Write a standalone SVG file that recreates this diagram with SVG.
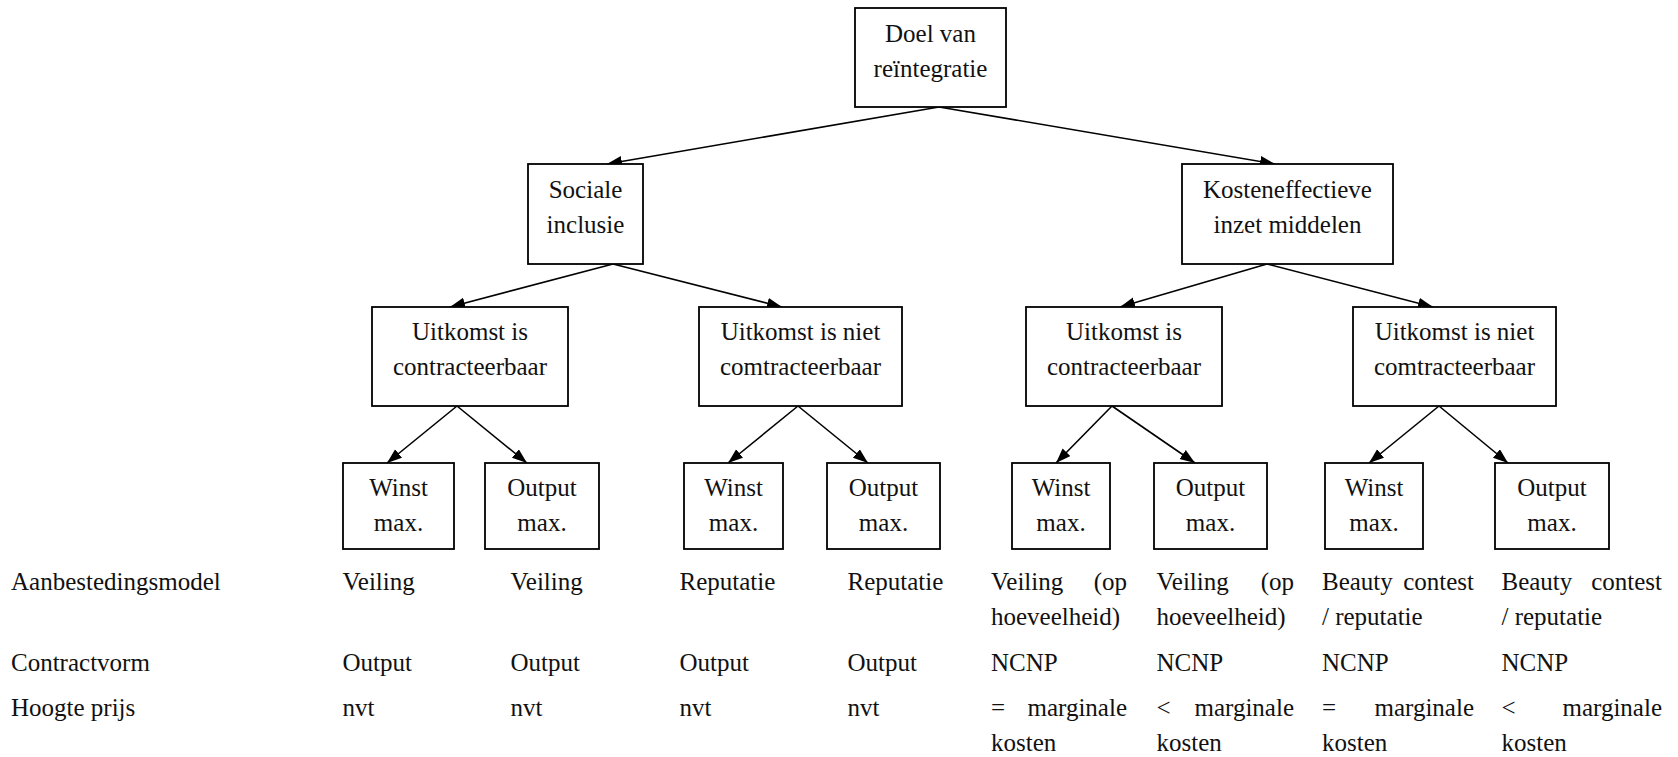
<svg xmlns="http://www.w3.org/2000/svg" width="1678" height="757" viewBox="0 0 1678 757">
<style>
  .box { fill: #ffffff; stroke: #000000; stroke-width: 1.8; }
  .t { font-family: "Liberation Serif", "Times New Roman", serif; font-size: 25px; fill: #111111; }
  .c { text-anchor: middle; }
  .e { text-anchor: end; }
  .conn { stroke: #000000; stroke-width: 1.6; fill: none; marker-end: url(#arrow); }
</style>
<defs>
  <marker id="arrow" markerUnits="userSpaceOnUse" markerWidth="16" markerHeight="12" refX="15" refY="5.5" orient="auto">
    <path d="M0,0 L15,5.5 L0,11 Z" fill="#000000"/>
  </marker>
</defs>
<rect x="0" y="0" width="1678" height="757" fill="#ffffff"/>

<g id="connectors">
  <line class="conn" x1="939" y1="107" x2="607" y2="164"/>
  <line class="conn" x1="939" y1="107" x2="1275" y2="164"/>
  <line class="conn" x1="613" y1="264" x2="450" y2="307"/>
  <line class="conn" x1="613" y1="264" x2="782" y2="307"/>
  <line class="conn" x1="1267" y1="264" x2="1120" y2="307"/>
  <line class="conn" x1="1267" y1="264" x2="1433" y2="307"/>
  <line class="conn" x1="457" y1="406" x2="387" y2="463"/>
  <line class="conn" x1="457" y1="406" x2="527" y2="463"/>
  <line class="conn" x1="798" y1="406" x2="728" y2="463"/>
  <line class="conn" x1="798" y1="406" x2="868" y2="463"/>
  <line class="conn" x1="1112" y1="406" x2="1056" y2="463"/>
  <line class="conn" x1="1112" y1="406" x2="1195" y2="463"/>
  <line class="conn" x1="1439" y1="406" x2="1369" y2="463"/>
  <line class="conn" x1="1439" y1="406" x2="1508" y2="463"/>
</g>

<g id="root">
  <rect class="box" x="855" y="8" width="151" height="99"/>
  <text class="t c" x="930.5" y="42">Doel van</text>
  <text class="t c" x="930.5" y="77">reïntegratie</text>
</g>

<g id="sociale">
  <rect class="box" x="528" y="164" width="115" height="100"/>
  <text class="t c" x="585.5" y="198">Sociale</text>
  <text class="t c" x="585.5" y="233">inclusie</text>
</g>

<g id="kosten">
  <rect class="box" x="1182" y="164" width="211" height="100"/>
  <text class="t c" x="1287.5" y="198">Kosteneffectieve</text>
  <text class="t c" x="1287.5" y="233">inzet middelen</text>
</g>

<g id="u1">
  <rect class="box" x="372" y="307" width="196" height="99"/>
  <text class="t c" x="470" y="340">Uitkomst is</text>
  <text class="t c" x="470" y="375">contracteerbaar</text>
</g>
<g id="u2">
  <rect class="box" x="699" y="307" width="203" height="99"/>
  <text class="t c" x="800.5" y="340">Uitkomst is niet</text>
  <text class="t c" x="800.5" y="375">comtracteerbaar</text>
</g>
<g id="u3">
  <rect class="box" x="1026" y="307" width="196" height="99"/>
  <text class="t c" x="1124" y="340">Uitkomst is</text>
  <text class="t c" x="1124" y="375">contracteerbaar</text>
</g>
<g id="u4">
  <rect class="box" x="1353" y="307" width="203" height="99"/>
  <text class="t c" x="1454.5" y="340">Uitkomst is niet</text>
  <text class="t c" x="1454.5" y="375">comtracteerbaar</text>
</g>

<g id="w1">
  <rect class="box" x="343" y="463" width="111" height="86"/>
  <text class="t c" x="398.5" y="496">Winst</text>
  <text class="t c" x="398.5" y="531">max.</text>
</g>
<g id="o1">
  <rect class="box" x="485" y="463" width="114" height="86"/>
  <text class="t c" x="542" y="496">Output</text>
  <text class="t c" x="542" y="531">max.</text>
</g>
<g id="w2">
  <rect class="box" x="684" y="463" width="99" height="86"/>
  <text class="t c" x="733.5" y="496">Winst</text>
  <text class="t c" x="733.5" y="531">max.</text>
</g>
<g id="o2">
  <rect class="box" x="827" y="463" width="113" height="86"/>
  <text class="t c" x="883.5" y="496">Output</text>
  <text class="t c" x="883.5" y="531">max.</text>
</g>
<g id="w3">
  <rect class="box" x="1012" y="463" width="98" height="86"/>
  <text class="t c" x="1061" y="496">Winst</text>
  <text class="t c" x="1061" y="531">max.</text>
</g>
<g id="o3">
  <rect class="box" x="1154" y="463" width="113" height="86"/>
  <text class="t c" x="1210.5" y="496">Output</text>
  <text class="t c" x="1210.5" y="531">max.</text>
</g>
<g id="w4">
  <rect class="box" x="1325" y="463" width="98" height="86"/>
  <text class="t c" x="1374" y="496">Winst</text>
  <text class="t c" x="1374" y="531">max.</text>
</g>
<g id="o4">
  <rect class="box" x="1495" y="463" width="114" height="86"/>
  <text class="t c" x="1552" y="496">Output</text>
  <text class="t c" x="1552" y="531">max.</text>
</g>

<g id="table">
  <text class="t" x="11" y="590">Aanbestedingsmodel</text>
  <text class="t" x="11" y="671">Contractvorm</text>
  <text class="t" x="11" y="716">Hoogte prijs</text>

  <text class="t" x="342.5" y="590">Veiling</text>
  <text class="t" x="510.5" y="590">Veiling</text>
  <text class="t" x="679.5" y="590">Reputatie</text>
  <text class="t" x="847.5" y="590">Reputatie</text>
  <text class="t" x="991" y="590">Veiling</text>
  <text class="t e" x="1127" y="590">(op</text>
  <text class="t" x="991" y="625">hoeveelheid)</text>
  <text class="t" x="1156.5" y="590">Veiling</text>
  <text class="t e" x="1294" y="590">(op</text>
  <text class="t" x="1156.5" y="625">hoeveelheid)</text>
  <text class="t" x="1322" y="590">Beauty</text>
  <text class="t e" x="1474" y="590">contest</text>
  <text class="t" x="1322" y="625">/ reputatie</text>
  <text class="t" x="1501.5" y="590">Beauty</text>
  <text class="t e" x="1662" y="590">contest</text>
  <text class="t" x="1501.5" y="625">/ reputatie</text>

  <text class="t" x="342.5" y="671">Output</text>
  <text class="t" x="510.5" y="671">Output</text>
  <text class="t" x="679.5" y="671">Output</text>
  <text class="t" x="847.5" y="671">Output</text>
  <text class="t" x="991" y="671">NCNP</text>
  <text class="t" x="1156.5" y="671">NCNP</text>
  <text class="t" x="1322" y="671">NCNP</text>
  <text class="t" x="1501.5" y="671">NCNP</text>

  <text class="t" x="342.5" y="716">nvt</text>
  <text class="t" x="510.5" y="716">nvt</text>
  <text class="t" x="679.5" y="716">nvt</text>
  <text class="t" x="847.5" y="716">nvt</text>
  <text class="t" x="991" y="716">=</text>
  <text class="t e" x="1127" y="716">marginale</text>
  <text class="t" x="991" y="751">kosten</text>
  <text class="t" x="1156.5" y="716">&lt;</text>
  <text class="t e" x="1294" y="716">marginale</text>
  <text class="t" x="1156.5" y="751">kosten</text>
  <text class="t" x="1322" y="716">=</text>
  <text class="t e" x="1474" y="716">marginale</text>
  <text class="t" x="1322" y="751">kosten</text>
  <text class="t" x="1501.5" y="716">&lt;</text>
  <text class="t e" x="1662" y="716">marginale</text>
  <text class="t" x="1501.5" y="751">kosten</text>
</g>
</svg>
